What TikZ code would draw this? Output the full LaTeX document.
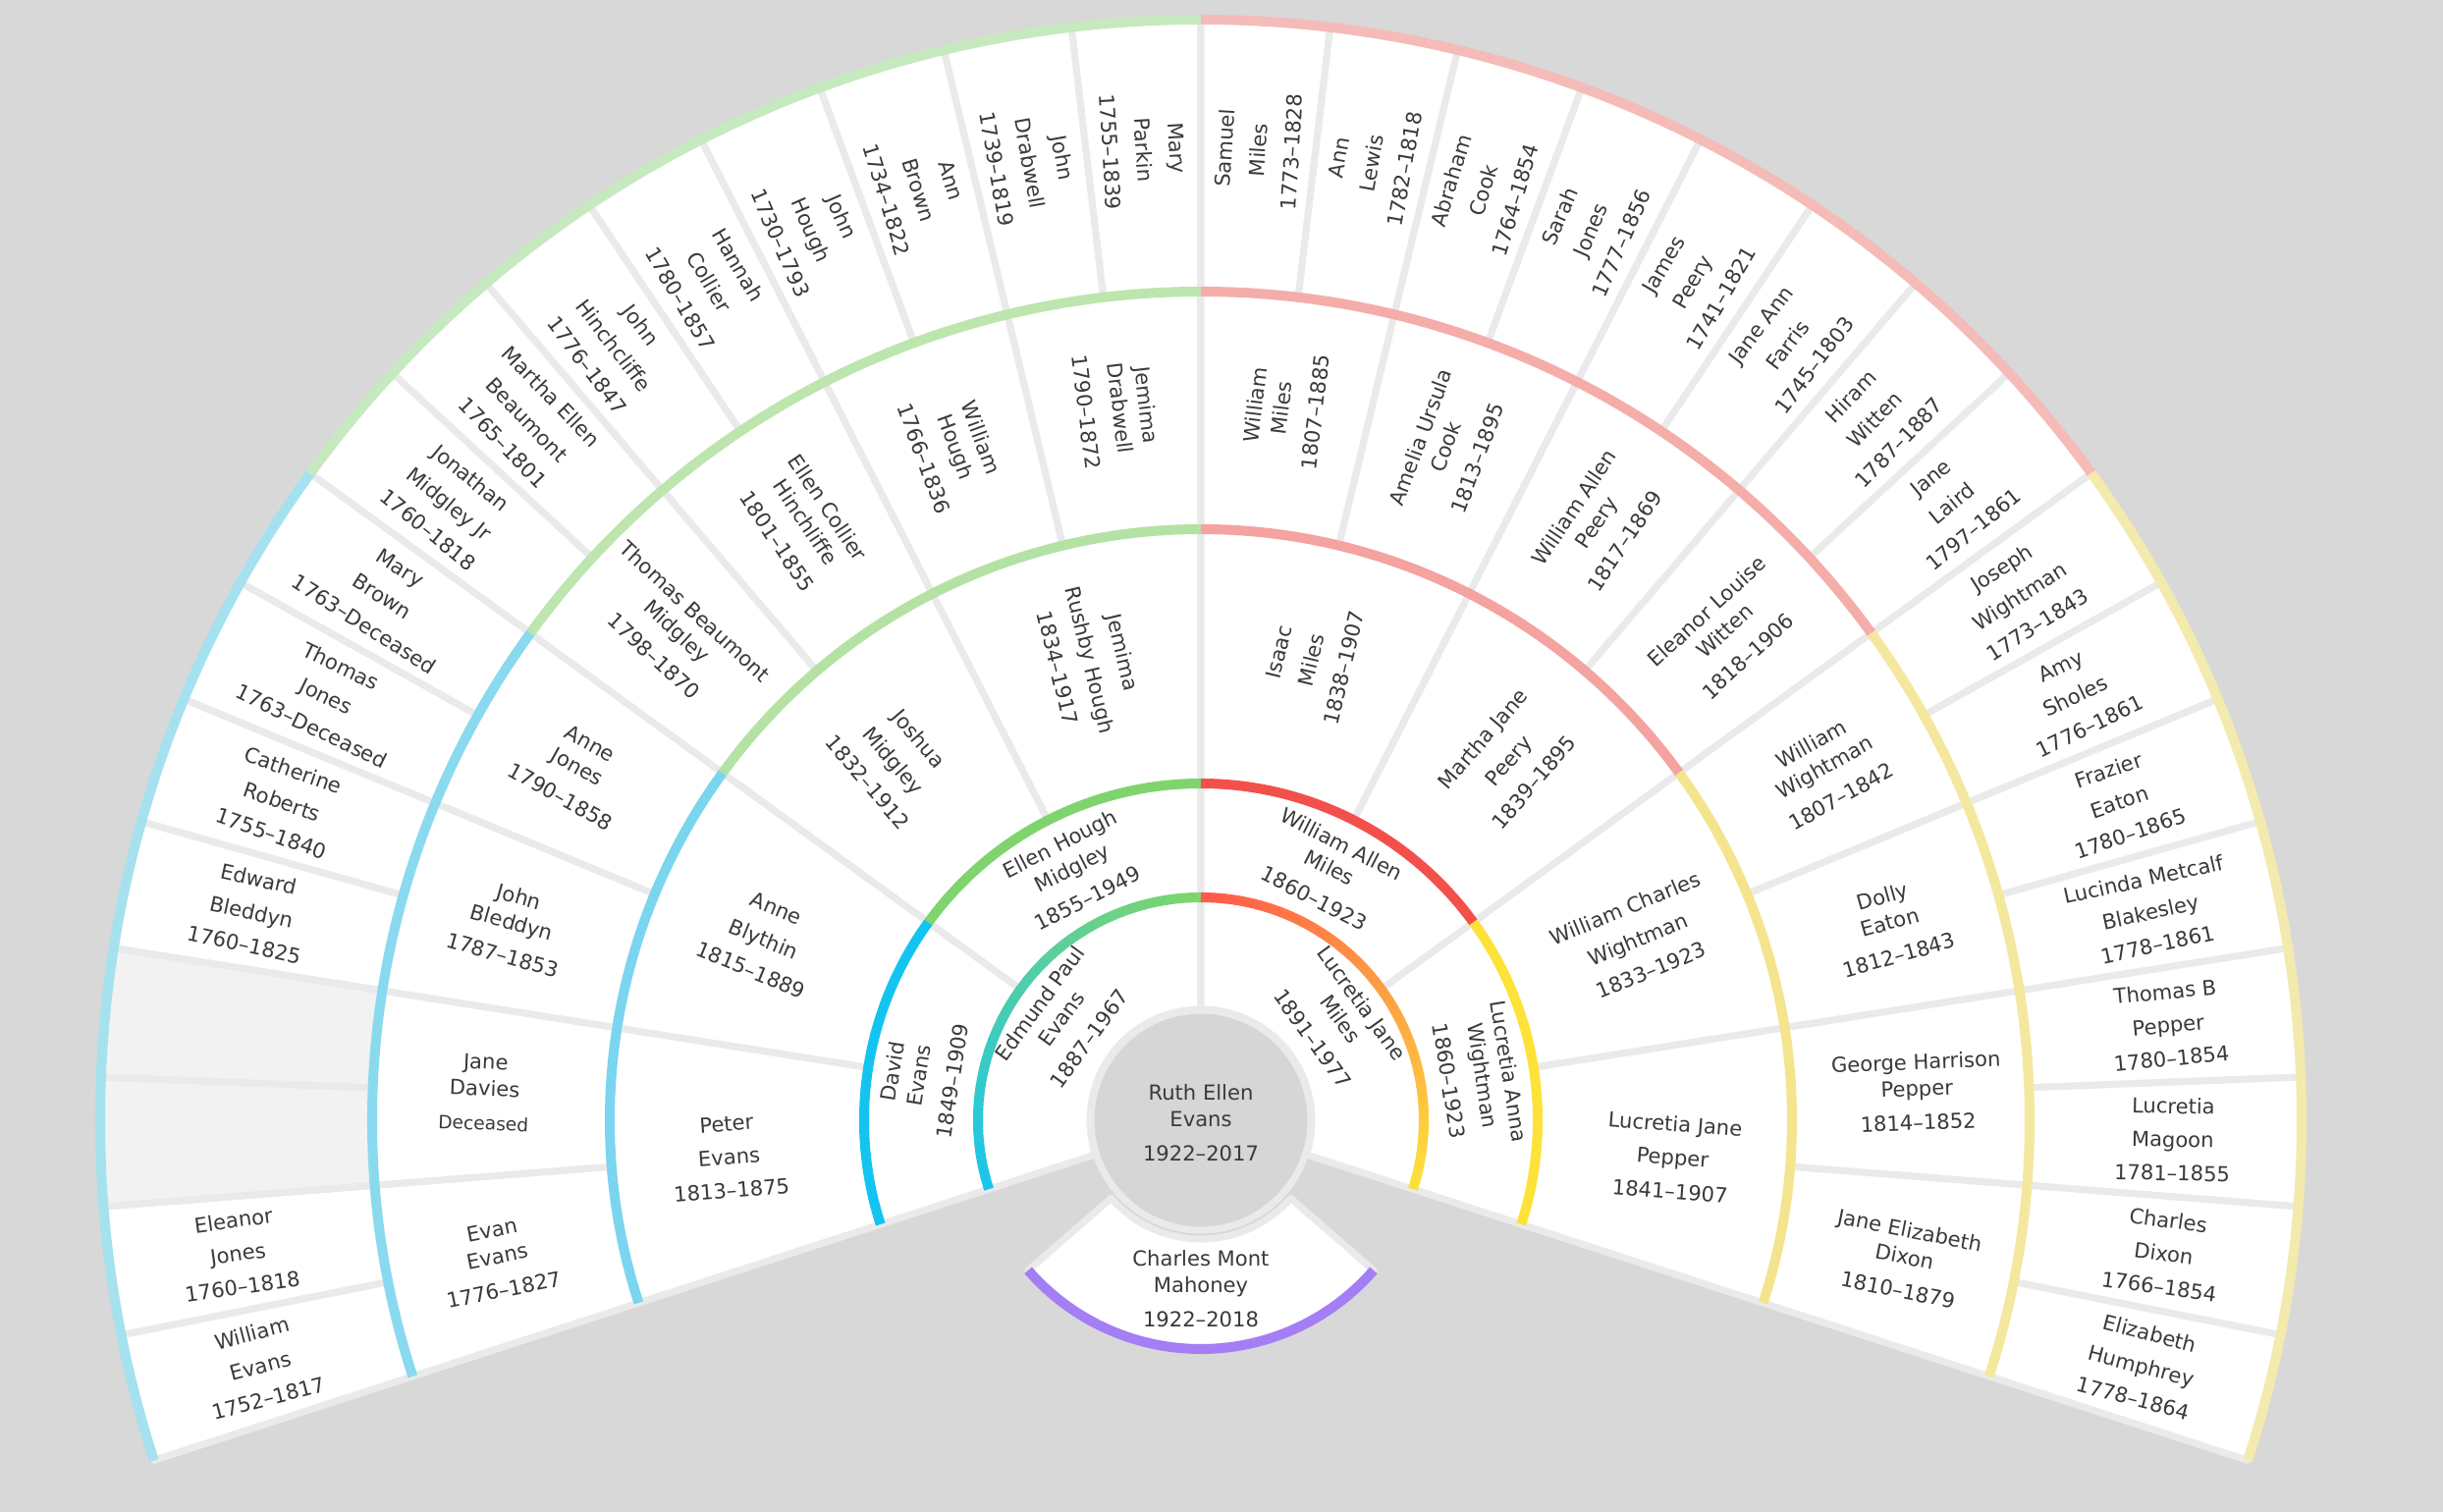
\documentclass[tikz,border=0pt]{standalone}
\usepackage{fontspec}
\setmainfont{DejaVu Sans}
\usepackage{xcolor}
\usepackage{tikz}

\definecolor{bggrey}{HTML}{D8D8D8}
\definecolor{segline}{HTML}{EAEAEA}
\definecolor{rootfill}{HTML}{D6D6D6}
\definecolor{emptyfill}{HTML}{F2F2F2}
\definecolor{txtgrey}{HTML}{3A3A3A}
\definecolor{oneCyan}{HTML}{1AC6EC}
\definecolor{oneGreen}{HTML}{7FD56C}
\definecolor{oneRed}{HTML}{FF5A4C}
\definecolor{oneYellow}{HTML}{FDE13A}
\definecolor{evA}{HTML}{14C4F0}
\definecolor{miA}{HTML}{80D46E}
\definecolor{mlA}{HTML}{F3504C}
\definecolor{wiA}{HTML}{FDE23A}
\definecolor{evB}{HTML}{7CD5EE}
\definecolor{miB}{HTML}{B4E2A4}
\definecolor{mlB}{HTML}{F4A3A0}
\definecolor{wiB}{HTML}{F5E48E}
\definecolor{evC}{HTML}{8ADAEF}
\definecolor{miC}{HTML}{BDE5AE}
\definecolor{mlC}{HTML}{F5ADAA}
\definecolor{wiC}{HTML}{F4E89E}
\definecolor{evD}{HTML}{A5E1EF}
\definecolor{miD}{HTML}{C7E9BF}
\definecolor{mlD}{HTML}{F5BBB8}
\definecolor{wiD}{HTML}{F3EAAE}
\definecolor{spouse}{HTML}{A47EF4}

\newcommand{\fanfont}{\fontsize{6}{7.7}\selectfont}
\newcommand{\fanfontwide}{\fontsize{6}{9.7}\selectfont}
\newcommand{\dead}{{\fontsize{5.3}{6}\selectfont Deceased}}
% start angle, end angle, inner radius, outer radius, fill
\newcommand{\fanseg}[5]{%
  \filldraw[seg, fill=#5] (#1:#3) arc[start angle=#1, end angle=#2, radius=#3]
    -- (#2:#4) arc[start angle=#2, end angle=#1, radius=#4] -- cycle;}
% start angle, end angle, radius, colour
\newcommand{\fanarc}[4]{%
  \draw[ring, draw=#4] (#1:#3) arc[start angle=#1, end angle=#2, radius=#3];}

\begin{document}
\begin{tikzpicture}[x=0.01cm, y=0.01cm,
  seg/.style={draw=segline, line width=2pt, line join=round},
  ring/.style={line width=2.85pt},
  who/.style={font=\fanfont, text=txtgrey, align=center, inner sep=0pt},
  whowide/.style={who, font=\fanfontwide}
]
\useasboundingbox (-1223,-399) rectangle (1265,1141);
\fill[bggrey] (-1223,-399) rectangle (1265,1141);

% segments, ring by ring
\foreach \i in {0,...,31}{
  \pgfmathsetmacro\a{198-6.75*\i}
  \pgfmathsetmacro\b{\a-6.75}
  \fanseg{\a}{\b}{844}{1121}{white}
}
\fanseg{184.5}{177.75}{844}{1121}{emptyfill}
\fanseg{177.75}{171}{844}{1121}{emptyfill}
\foreach \i in {0,...,15}{
  \pgfmathsetmacro\a{198-13.5*\i}
  \pgfmathsetmacro\b{\a-13.5}
  \fanseg{\a}{\b}{602}{844}{white}
}
\foreach \i in {0,...,7}{
  \pgfmathsetmacro\a{198-27*\i}
  \pgfmathsetmacro\b{\a-27}
  \fanseg{\a}{\b}{343}{602}{white}
}
\foreach \i in {0,...,3}{
  \pgfmathsetmacro\a{198-54*\i}
  \pgfmathsetmacro\b{\a-54}
  \fanseg{\a}{\b}{227}{343}{white}
}
\fanseg{198}{90}{113}{227}{white}
\fanseg{90}{-18}{113}{227}{white}
\fanseg{221}{319}{121}{233}{white}
\filldraw[seg, fill=rootfill] (0,0) circle[radius=112];

% coloured rims
\fanarc{198}{144}{1121}{evD}
\fanarc{144}{90}{1121}{miD}
\fanarc{90}{36}{1121}{mlD}
\fanarc{36}{-18}{1121}{wiD}
\fanarc{198}{144}{844}{evC}
\fanarc{144}{90}{844}{miC}
\fanarc{90}{36}{844}{mlC}
\fanarc{36}{-18}{844}{wiC}
\fanarc{198}{144}{602}{evB}
\fanarc{144}{90}{602}{miB}
\fanarc{90}{36}{602}{mlB}
\fanarc{36}{-18}{602}{wiB}
\fanarc{198}{144}{343}{evA}
\fanarc{144}{90}{343}{miA}
\fanarc{90}{36}{343}{mlA}
\fanarc{36}{-18}{343}{wiA}
\foreach \k in {0,...,35}{
  \pgfmathsetmacro\a{198-3*\k}
  \pgfmathtruncatemacro\p{round(100*\k/35)}
  \draw[ring, draw=oneGreen!\p!oneCyan] (\a:227) arc[start angle=\a, end angle=\a-3.3, radius=227];
}
\foreach \k in {0,...,35}{
  \pgfmathsetmacro\a{90-3*\k}
  \pgfmathtruncatemacro\p{round(100*\k/35)}
  \draw[ring, draw=oneYellow!\p!oneRed] (\a:227) arc[start angle=\a, end angle={max(\a-3.3,-18)}, radius=227];
}
\fanarc{221}{319}{233}{spouse}

% root and spouse
\node[who] (ruth) at (0,-3) {Ruth Ellen\\Evans\\[2.2pt]1922--2017};
\node[who] (cmahoney) at (270:172) {Charles Mont\\Mahoney\\[2.2pt]1922--2018};

% parents
\node[who, rotate=54] (epevans) at (144:172) {Edmund Paul\\Evans\\[2.2pt]1887--1967};
\node[who, rotate=-54] (ljmiles) at (36:172) {Lucretia Jane\\Miles\\[2.2pt]1891--1977};

% grandparents
\node[who, rotate=81] (devans) at (171:287) {David\\Evans\\[2.2pt]1849--1909};
\node[who, rotate=27] (ehmidgley) at (117:285) {Ellen Hough\\Midgley\\[2.2pt]1855--1949};
\node[who, rotate=-27] (wamiles) at (63:285) {William Allen\\Miles\\[2.2pt]1860--1923};
\node[who, rotate=-81] (lawightman) at (9:287) {Lucretia Anna\\Wightman\\[2.2pt]1860--1923};

% great-grandparents
\node[whowide, rotate=4.5] (pevans) at (184.5:482) {Peter\\Evans\\1813--1875};
\node[whowide, rotate=-22.5] (ablythin) at (157.5:482) {Anne\\Blythin\\1815--1889};
\node[whowide, rotate=-49.5] (joshmidgley) at (130.5:482) {Joshua\\Midgley\\1832--1912};
\node[whowide, rotate=-76.5] (jrhough) at (103.5:482) {Jemima\\Rushby Hough\\1834--1917};
\node[whowide, rotate=76.5] (imiles) at (76.5:482) {Isaac\\Miles\\1838--1907};
\node[whowide, rotate=49.5] (mjpeery) at (49.5:482) {Martha Jane\\Peery\\1839--1895};
\node[whowide, rotate=22.5] (wcwightman) at (22.5:482) {William Charles\\Wightman\\1833--1923};
\node[whowide, rotate=-4.5] (ljpepper) at (-4.5:482) {Lucretia Jane\\Pepper\\1841--1907};

% generation four
\node[who, rotate=11.25] (eevans) at (191.25:730) {Evan\\Evans\\[2.2pt]1776--1827};
\node[who, rotate=-2.25] (jdavies) at (177.75:730) {Jane\\Davies\\[2.2pt]\dead};
\node[who, rotate=-15.75] (jbleddyn) at (164.25:730) {John\\Bleddyn\\[2.2pt]1787--1853};
\node[who, rotate=-29.25] (ajones) at (150.75:730) {Anne\\Jones\\[2.2pt]1790--1858};
\node[who, rotate=-42.75] (tbmidgley) at (137.25:730) {Thomas Beaumont\\Midgley\\[2.2pt]1798--1870};
\node[who, rotate=-56.25] (echinchliffe) at (123.75:730) {Ellen Collier\\Hinchliffe\\[2.2pt]1801--1855};
\node[who, rotate=-69.75] (whough) at (110.25:730) {William\\Hough\\[2.2pt]1766--1836};
\node[who, rotate=-83.25] (jemdrabwell) at (96.75:730) {Jemima\\Drabwell\\[2.2pt]1790--1872};
\node[who, rotate=83.25] (wmiles) at (83.25:730) {William\\Miles\\[2.2pt]1807--1885};
\node[who, rotate=69.75] (aucook) at (69.75:730) {Amelia Ursula\\Cook\\[2.2pt]1813--1895};
\node[who, rotate=56.25] (wapeery) at (56.25:730) {William Allen\\Peery\\[2.2pt]1817--1869};
\node[who, rotate=42.75] (elwitten) at (42.75:730) {Eleanor Louise\\Witten\\[2.2pt]1818--1906};
\node[who, rotate=29.25] (wwightman) at (29.25:730) {William\\Wightman\\[2.2pt]1807--1842};
\node[who, rotate=15.75] (deaton) at (15.75:730) {Dolly\\Eaton\\[2.2pt]1812--1843};
\node[who, rotate=2.25] (ghpepper) at (2.25:730) {George Harrison\\Pepper\\[2.2pt]1814--1852};
\node[who, rotate=-11.25] (jedixon) at (-11.25:730) {Jane Elizabeth\\Dixon\\[2.2pt]1810--1879};

% generation five
\node[whowide, rotate=14.625] (wevans) at (194.625:990) {William\\Evans\\1752--1817};
\node[whowide, rotate=7.875] (ejones) at (187.875:990) {Eleanor\\Jones\\1760--1818};
\node[whowide, rotate=-12.375] (ebleddyn) at (167.625:990) {Edward\\Bleddyn\\1760--1825};
\node[whowide, rotate=-19.125] (croberts) at (160.875:990) {Catherine\\Roberts\\1755--1840};
\node[whowide, rotate=-25.875] (tjones) at (154.125:990) {Thomas\\Jones\\1763--Deceased};
\node[whowide, rotate=-32.625] (mbrown) at (147.375:990) {Mary\\Brown\\1763--Deceased};
\node[whowide, rotate=-39.375] (jmidgley) at (140.625:990) {Jonathan\\Midgley Jr\\1760--1818};
\node[whowide, rotate=-46.125] (mebeaumont) at (133.875:990) {Martha Ellen\\Beaumont\\1765--1801};
\node[whowide, rotate=-52.875] (jhinchcliffe) at (127.125:990) {John\\Hinchcliffe\\1776--1847};
\node[whowide, rotate=-59.625] (hcollier) at (120.375:990) {Hannah\\Collier\\1780--1857};
\node[whowide, rotate=-66.375] (jhough) at (113.625:990) {John\\Hough\\1730--1793};
\node[whowide, rotate=-73.125] (abrown) at (106.875:990) {Ann\\Brown\\1734--1822};
\node[whowide, rotate=-79.875] (jdrabwell) at (100.125:990) {John\\Drabwell\\1739--1819};
\node[whowide, rotate=-86.625] (mparkin) at (93.375:990) {Mary\\Parkin\\1755--1839};
\node[whowide, rotate=86.625] (smiles) at (86.625:990) {Samuel\\Miles\\1773--1828};
\node[whowide, rotate=79.875] (alewis) at (79.875:990) {Ann\\Lewis\\1782--1818};
\node[whowide, rotate=73.125] (abcook) at (73.125:990) {Abraham\\Cook\\1764--1854};
\node[whowide, rotate=66.375] (sjones) at (66.375:990) {Sarah\\Jones\\1777--1856};
\node[whowide, rotate=59.625] (jpeery) at (59.625:990) {James\\Peery\\1741--1821};
\node[whowide, rotate=52.875] (jafarris) at (52.875:990) {Jane Ann\\Farris\\1745--1803};
\node[whowide, rotate=46.125] (hwitten) at (46.125:990) {Hiram\\Witten\\1787--1887};
\node[whowide, rotate=39.375] (jlaird) at (39.375:990) {Jane\\Laird\\1797--1861};
\node[whowide, rotate=32.625] (jwightman) at (32.625:990) {Joseph\\Wightman\\1773--1843};
\node[whowide, rotate=25.875] (asholes) at (25.875:990) {Amy\\Sholes\\1776--1861};
\node[whowide, rotate=19.125] (featon) at (19.125:990) {Frazier\\Eaton\\1780--1865};
\node[whowide, rotate=12.375] (lmblakesley) at (12.375:990) {Lucinda Metcalf\\Blakesley\\1778--1861};
\node[whowide, rotate=5.625] (tbpepper) at (5.625:990) {Thomas B\\Pepper\\1780--1854};
\node[whowide, rotate=-1.125] (lmagoon) at (-1.125:990) {Lucretia\\Magoon\\1781--1855};
\node[whowide, rotate=-7.875] (cdixon) at (-7.875:990) {Charles\\Dixon\\1766--1854};
\node[whowide, rotate=-14.625] (ehumphrey) at (-14.625:990) {Elizabeth\\Humphrey\\1778--1864};
\end{tikzpicture}
\end{document}
